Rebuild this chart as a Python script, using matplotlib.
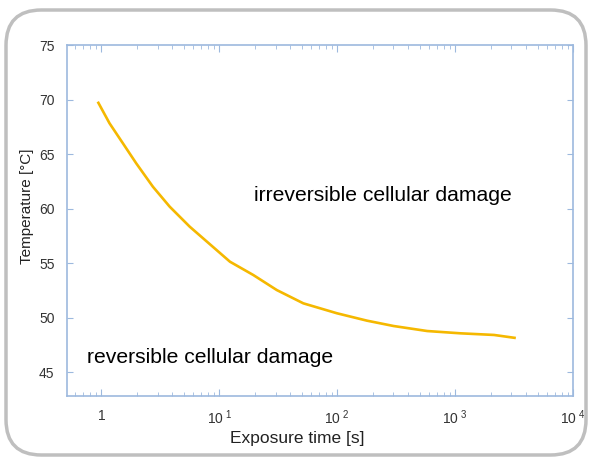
import matplotlib.pyplot as plt
from matplotlib.patches import FancyBboxPatch

# data
time_s = [0.93, 1.17, 1.52, 1.97, 2.73, 3.79, 5.61, 9.47, 12.3, 19.4, 30.7,
          51.6, 99.4, 179, 301, 580, 1112, 2138, 3273]
temp_c = [69.8, 67.82, 65.98, 64.15, 62.0, 60.17, 58.33, 56.19, 55.12, 53.9, 52.52,
          51.3, 50.39, 49.71, 49.22, 48.76, 48.55, 48.4, 48.12]

xticks = [1, 10, 100, 1000, 10000]
xtick_labels = ['1', r'$\mathregular{10^{\ 1}}$', r'$\mathregular{10^{\ 2}}$',
                r'$\mathregular{10^{\ 3}}$', r'$\mathregular{10^{\ 4}}$']
yticks = [45, 50, 55, 60, 65, 70, 75]

plt.rcParams['font.family'] = ['Liberation Sans', 'DejaVu Sans']

LINE = '#F5B800'
SPINE = '#9DB9DE'

fig = plt.figure(figsize=(5.89, 4.59), dpi=100)
ax = fig.add_axes([67 / 589, 1 - 396 / 459, (573 - 67) / 589, (396 - 45) / 459])

ax.plot(time_s, temp_c, color=LINE, lw=1.9, solid_capstyle='butt', solid_joinstyle='round')

ax.set_xscale('log')
ax.set_xlim(0.51, 10000)
ax.set_ylim(42.8, 75)
ax.set_xticks(xticks)
ax.set_xticklabels(xtick_labels)
ax.set_yticks(yticks)

for s in ax.spines.values():
    s.set_color(SPINE)
    s.set_linewidth(1.2)
ax.tick_params(which='both', direction='in', top=True, right=True, color=SPINE,
               labelsize=10, labelcolor='#333333', pad=9)
ax.tick_params(which='major', length=5)
ax.tick_params(which='minor', length=3)
ax.tick_params(axis='y', length=4)

ax.set_xlabel('Exposure time [s]', fontsize=12.5, color='#222222')
ax.xaxis.set_label_coords(0.456, -0.1)
ax.set_ylabel('Temperature [°C]', fontsize=11, color='#222222')
ax.yaxis.set_label_coords(-0.065, 0.54)

ax.text(0.37, 60.7, 'irreversible cellular damage',
        transform=ax.get_yaxis_transform(), ha='left', va='baseline', fontsize=15.2)
ax.text(0.04, 45.8, 'reversible cellular damage',
        transform=ax.get_yaxis_transform(), ha='left', va='baseline', fontsize=15.2)

# rounded frame around the whole figure
frame = FancyBboxPatch((6 / 589, 4 / 459), 580 / 589, 445 / 459,
                       boxstyle='round,pad=0,rounding_size=0.06',
                       transform=fig.transFigure, fill=False,
                       edgecolor='#BFBFBF', lw=2.5, mutation_aspect=589 / 459)
fig.patches.append(frame)

fig.savefig('out.png', dpi=100)
